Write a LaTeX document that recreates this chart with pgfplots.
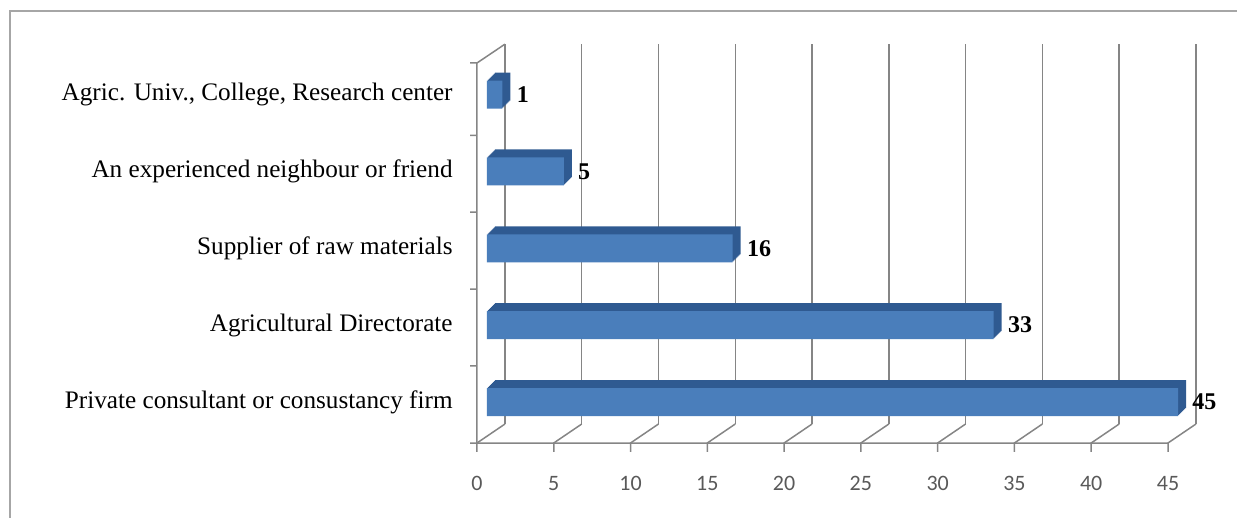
\documentclass[border=0pt]{standalone}
\usepackage{pgfplots}
\usepackage{pgfplotstable}
\pgfplotsset{compat=1.18}
\usepackage{fontspec}
\setmainfont{Liberation Serif}
\newfontfamily\tickfont[Numbers={Lining,Monospaced}]{Carlito}
\definecolor{gridc}{HTML}{858585}
\definecolor{barfront}{HTML}{4A7EBB}
\definecolor{bardepth}{HTML}{2F5A91}
\definecolor{framec}{HTML}{A6A6A6}
\definecolor{tickc}{HTML}{595959}

\pgfplotstableread{
y v
0 45
1 33
2 16
3 5
4 1
}\datatable

\begin{document}
\begin{tikzpicture}
\path[use as bounding box] (0,0) rectangle (618.5pt,-259pt);
\draw[framec, line width=1.2pt] (5pt,-259pt) -- (5pt,-5.5pt) -- (618.5pt,-5.5pt);
\begin{axis}[
 /pgf/number format/assume math mode=true,
 scale only axis, width=345.5pt, height=190pt,
 at={(238.5pt,-221.5pt)}, anchor=south west,
 xmin=0, xmax=45, ymin=-0.533, ymax=4.41,
 clip=false,
 axis line style={draw=none},
 tick style={draw=none},
 xtick={0,5,...,45},
 xticklabels={0,5,10,15,20,25,30,35,40,45},
 ytick={0,1,2,3,4},
 yticklabels={Private consultant or consustancy firm, Agricultural Directorate, Supplier of raw materials, An experienced neighbour or friend, {Agric. Univ., College, Research center}},
 xticklabel style={font=\tickfont\fontsize{11}{13}\selectfont, text=tickc, anchor=base, yshift=-23.5pt},
 yticklabel style={font=\fontsize{12.6}{14}\selectfont, anchor=east, inner sep=0pt, xshift=-12pt},
]
% back wall grid lines
\addplot[gridc, line width=0.75pt, unbounded coords=jump] coordinates {
(1.82,-0.286) (1.82,4.655) (nan,nan)
(6.82,-0.286) (6.82,4.655) (nan,nan)
(11.82,-0.286) (11.82,4.655) (nan,nan)
(16.82,-0.286) (16.82,4.655) (nan,nan)
(21.82,-0.286) (21.82,4.655) (nan,nan)
(26.82,-0.286) (26.82,4.655) (nan,nan)
(31.82,-0.286) (31.82,4.655) (nan,nan)
(36.82,-0.286) (36.82,4.655) (nan,nan)
(41.82,-0.286) (41.82,4.655) (nan,nan)
(46.82,-0.286) (46.82,4.655)
};
% floor diagonals and ticks
\addplot[gridc, line width=0.75pt, unbounded coords=jump] coordinates {
(0,-0.65) (0,-0.533) (1.82,-0.286) (nan,nan)
(5,-0.65) (5,-0.533) (6.82,-0.286) (nan,nan)
(10,-0.65) (10,-0.533) (11.82,-0.286) (nan,nan)
(15,-0.65) (15,-0.533) (16.82,-0.286) (nan,nan)
(20,-0.65) (20,-0.533) (21.82,-0.286) (nan,nan)
(25,-0.65) (25,-0.533) (26.82,-0.286) (nan,nan)
(30,-0.65) (30,-0.533) (31.82,-0.286) (nan,nan)
(35,-0.65) (35,-0.533) (36.82,-0.286) (nan,nan)
(40,-0.65) (40,-0.533) (41.82,-0.286) (nan,nan)
(45,-0.65) (45,-0.533) (46.82,-0.286)
};
% front floor edge and left wall
\addplot[gridc, line width=0.75pt, unbounded coords=jump] coordinates {
(-0.45,-0.533) (45,-0.533) (nan,nan)
(0,-0.533) (0,4.41) (1.82,4.655) (nan,nan)
(-0.45,0.47) (0,0.47) (nan,nan)
(-0.45,1.47) (0,1.47) (nan,nan)
(-0.45,2.47) (0,2.47) (nan,nan)
(-0.45,3.47) (0,3.47) (nan,nan)
(-0.45,4.41) (0,4.41)
};
% bar depth (extrusion)
\pgfplotsinvokeforeach{8,7,6,5,4,3,2,1}{
\addplot[xbar, bar width=0.364, fill=bardepth, draw=none, xshift=5pt+#1*0.5pt, yshift=#1*0.5pt] table[x=v,y=y]{\datatable};
}
% bar front
\addplot[xbar, bar width=0.364, fill=barfront, draw=none, xshift=5pt,
 nodes near coords,
 every node near coord/.append style={font=\bfseries\fontsize{12}{14}\selectfont, text=black, anchor=west, inner sep=0pt, xshift=7pt}]
 table[x=v,y=y]{\datatable};
\end{axis}
\end{tikzpicture}
\end{document}
